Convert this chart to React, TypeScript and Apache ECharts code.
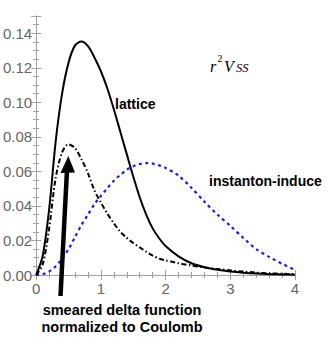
import React, { useEffect, useRef } from "react";
import * as echarts from "echarts";

const xs = [0, 0.1, 0.2, 0.3, 0.4, 0.5, 0.6, 0.7, 0.8, 0.9, 1.0, 1.1, 1.2, 1.3, 1.4, 1.5, 1.6, 1.7, 1.8, 1.9, 2.0, 2.2, 2.4, 2.6, 2.8, 3.0, 3.2, 3.4, 3.6, 3.8, 4.0];

const lattice = [0, 0.011, 0.038, 0.077, 0.105, 0.123, 0.133, 0.1352, 0.1325, 0.126, 0.118, 0.108, 0.096, 0.083, 0.07, 0.057, 0.045, 0.035, 0.027, 0.0213, 0.0168, 0.0108, 0.0068, 0.0045, 0.003, 0.002, 0.0013, 0.0008, 0.0005, 0.0003, 0.0002];

const smeared = [0, 0.006, 0.027, 0.056, 0.071, 0.0757, 0.0735, 0.067, 0.059, 0.049, 0.042, 0.0355, 0.03, 0.025, 0.0215, 0.0185, 0.016, 0.0135, 0.0112, 0.0095, 0.0085, 0.0068, 0.0055, 0.0044, 0.0035, 0.0027, 0.002, 0.0014, 0.001, 0.0007, 0.0005];

const instanton = [0, 0.0005, 0.002, 0.005, 0.0095, 0.015, 0.022, 0.029, 0.035, 0.041, 0.0458, 0.0503, 0.0546, 0.058, 0.061, 0.063, 0.0643, 0.0648, 0.0645, 0.0635, 0.062, 0.0575, 0.0505, 0.0425, 0.035, 0.0285, 0.0215, 0.015, 0.0105, 0.0065, 0.003];

const xTicks = ["0", "1", "2", "3", "4"];

const pairs = (ys: number[]) => xs.map((x, i) => [x, ys[i]]);

const frameColor = "#a0a0a0";
const labelColor = "#666666";

function axisCommon(show: boolean) {
  return {
    axisLine: { show: true, lineStyle: { color: frameColor, width: 1 } },
    axisTick: { show: true, inside: true, length: 5, lineStyle: { color: frameColor } },
    minorTick: { show: true, length: 3, lineStyle: { color: frameColor } },
    splitLine: { show: false },
    axisLabel: { show },
  };
}

export default function App() {
  const ref = useRef<HTMLDivElement>(null);
  useEffect(() => {
    if (!ref.current) return;
    document.body.style.margin = "0";
    const chart = echarts.init(ref.current, null, { renderer: "svg" });
    const font = "'Liberation Sans', Arial, sans-serif";
    const serif = "'Liberation Serif', 'Times New Roman', serif";
    const xBase = { type: "value", min: 0, max: 4, interval: 1 };
    const yBase = { type: "value", min: 0, max: 0.15, interval: 0.02 };
    chart.setOption({
      animation: false,
      backgroundColor: "#ffffff",
      grid: { left: 36, top: 16, width: 259, height: 259, containLabel: false },
      xAxis: [
        {
          ...xBase,
          position: "bottom",
          ...axisCommon(true),
          minorTick: { show: true, splitNumber: 5, length: 3, lineStyle: { color: frameColor } },
          axisLabel: {
            show: true,
            color: labelColor,
            fontSize: 15,
            fontFamily: font,
            margin: 6,
            formatter: (v: number) => xTicks[Math.round(v)] ?? "",
          },
        },
        {
          ...xBase,
          position: "top",
          ...axisCommon(false),
          minorTick: { show: true, splitNumber: 5, length: 3, lineStyle: { color: frameColor } },
        },
      ],
      yAxis: [
        {
          ...yBase,
          position: "left",
          ...axisCommon(true),
          minorTick: { show: true, splitNumber: 4, length: 3, lineStyle: { color: frameColor } },
          axisLabel: {
            show: true,
            color: labelColor,
            fontSize: 15,
            fontFamily: font,
            margin: 4,
            showMaxLabel: false,
            formatter: (v: number) => (v > 0.145 ? "" : v.toFixed(2)),
          },
        },
        {
          ...yBase,
          position: "right",
          ...axisCommon(false),
          minorTick: { show: true, splitNumber: 4, length: 3, lineStyle: { color: frameColor } },
        },
      ],
      series: [
        {
          type: "line",
          name: "instanton-induced",
          data: pairs(instanton),
          smooth: 0.3,
          showSymbol: false,
          lineStyle: { color: "#1b1bf0", width: 2.2, type: [3, 3.5] },
          z: 3,
        },
        {
          type: "line",
          name: "smeared",
          data: pairs(smeared),
          smooth: 0.3,
          showSymbol: false,
          lineStyle: { color: "#000000", width: 2, type: [5, 2.5, 1.5, 2.5] },
          z: 4,
        },
        {
          type: "line",
          name: "lattice",
          data: pairs(lattice),
          smooth: 0.3,
          showSymbol: false,
          lineStyle: { color: "#000000", width: 2 },
          z: 5,
        },
      ],
      graphic: [
        {
          type: "line",
          shape: { x1: 60.5, y1: 296, x2: 67, y2: 170 },
          style: { stroke: "#000", lineWidth: 4.5 },
          z: 10,
        },
        {
          type: "polygon",
          shape: { points: [[68.3, 156], [60.5, 173], [75, 172.5]] },
          style: { fill: "#000" },
          z: 10,
        },
        {
          type: "text",
          left: 115,
          top: 97,
          style: { text: "lattice", font: `bold 14px ${font}`, fill: "#000" },
          z: 10,
        },
        {
          type: "text",
          left: 209,
          top: 174,
          style: { text: "instanton-induce", font: `bold 14px ${font}`, fill: "#000" },
          z: 10,
        },
        {
          type: "text",
          x: 122,
          y: 318,
          style: {
            text: "smeared delta function\nnormalized to Coulomb",
            font: `bold 14.5px ${font}`,
            fill: "#000",
            align: "center",
            verticalAlign: "middle",
            lineHeight: 17,
          },
          z: 10,
        },
        {
          type: "text",
          x: 210,
          y: 58,
          style: { text: "r", font: `italic 16px ${serif}`, fill: "#000", verticalAlign: "alphabetic" },
          z: 10,
        },
        {
          type: "text",
          x: 217.5,
          y: 53,
          style: { text: "2", font: `10px ${serif}`, fill: "#000", verticalAlign: "alphabetic" },
          z: 10,
        },
        {
          type: "text",
          x: 224,
          y: 58,
          style: { text: "V", font: `italic 16px ${serif}`, fill: "#000", verticalAlign: "alphabetic" },
          z: 10,
        },
        {
          type: "text",
          x: 236,
          y: 61,
          style: { text: "SS", font: `italic 12.5px ${serif}`, fill: "#000", verticalAlign: "alphabetic" },
          z: 10,
        },
      ],
    });
    return () => chart.dispose();
  }, []);
  return <div ref={ref} style={{ width: 327, height: 337 }} />;
}
